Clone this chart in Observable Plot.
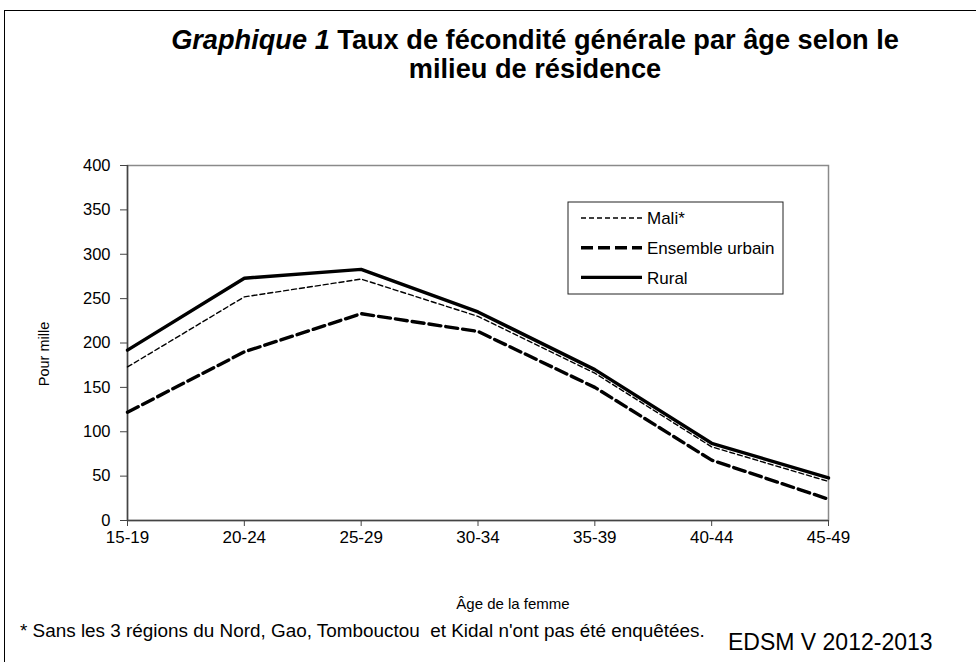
<!DOCTYPE html>
<html>
<head>
<meta charset="utf-8">
<script src="https://cdn.jsdelivr.net/npm/d3@7"></script>
<script src="https://cdn.jsdelivr.net/npm/@observablehq/plot@0.6"></script>
<style>
  html, body { margin: 0; padding: 0; background: #fff; }
  #wrap { position: relative; width: 976px; height: 662px; overflow: hidden; background: #fff; font-family: "Liberation Sans", Arial, sans-serif; }
  #border { position: absolute; left: 4px; top: 10px; width: 1200px; height: 900px; border-top: 1.5px solid #000; border-left: 1.5px solid #000; }
  #wrap svg { position: absolute; left: 0; top: 0; }
</style>
</head>
<body>
<div id="wrap"><div id="border"></div></div>
<script>
const ages = ["15-19", "20-24", "25-29", "30-34", "35-39", "40-44", "45-49"];
const mali = [173, 252, 272, 230, 166, 83, 44];
const urbain = [122, 190, 233, 213, 150, 68, 24];
const rural = [192, 273, 283, 235, 170, 87, 48];
const yTicks = [0, 50, 100, 150, 200, 250, 300, 350, 400];
const seriesNames = ["Mali*", "Ensemble urbain", "Rural"];
const titleItalic = "Graphique 1";
const titleRest = " Taux de fécondité générale par âge selon le";
const titleLine2 = "milieu de résidence";
const yLabel = "Pour mille";
const xLabel = "Âge de la femme";
const footnote = "* Sans les 3 régions du Nord, Gao, Tombouctou  et Kidal n'ont pas été enquêtées.";
const source = "EDSM V 2012-2013";

const styles = [
  {w: 1.4, dash: "5,3"},
  {w: 3.4, dash: "12,5"},
  {w: 3.4, dash: null}
];
const allSeries = [mali, urbain, rural];
const rows = [];
allSeries.forEach((vals, s) => vals.forEach((v, i) => rows.push({age: ages[i], value: v, series: seriesNames[s]})));

const lineMarks = seriesNames.map((name, s) => Plot.line(rows.filter(d => d.series === name), {
  x: "age", y: "value", stroke: "#000", strokeWidth: styles[s].w,
  strokeDasharray: styles[s].dash || undefined, strokeLinejoin: "round"
}));

const chart = Plot.plot({
  width: 976, height: 662,
  marginLeft: 127, marginRight: 148, marginTop: 165, marginBottom: 142,
  style: {fontFamily: "Liberation Sans, Arial, sans-serif", background: "transparent", color: "#000"},
  x: {type: "point", domain: ages, padding: 0, round: false},
  y: {domain: [0, 400]},
  marks: [
    Plot.frame({stroke: "#8a8a8a", strokeWidth: 1.5}),
    Plot.axisY({ticks: yTicks, tickSize: 7, tickPadding: 10, fontSize: 16.5, label: null, stroke: "#444"}),
    Plot.axisX({tickSize: 6, tickPadding: 4, fontSize: 17, label: null, stroke: "#444"}),
    Plot.ruleX([ages[0]], {stroke: "#444", strokeWidth: 1.5}),
    Plot.ruleY([0], {stroke: "#444", strokeWidth: 1.5}),
    ...lineMarks
  ]
});

document.getElementById("wrap").appendChild(chart);
const svg = d3.select(chart);

// Title
const t1 = svg.append("text").attr("x", 535).attr("y", 49).attr("text-anchor", "middle")
  .attr("font-size", 27.2).attr("font-weight", "bold").attr("fill", "#000");
t1.append("tspan").attr("font-style", "italic").text(titleItalic);
t1.append("tspan").text(titleRest);
svg.append("text").attr("x", 535).attr("y", 78).attr("text-anchor", "middle")
  .attr("font-size", 27.2).attr("font-weight", "bold").attr("fill", "#000").text(titleLine2);

// Axis labels
svg.append("text").attr("transform", "translate(49,354) rotate(-90)").attr("text-anchor", "middle")
  .attr("font-size", 14.5).attr("fill", "#000").text(yLabel);
svg.append("text").attr("x", 513).attr("y", 609).attr("text-anchor", "middle")
  .attr("font-size", 15).attr("fill", "#000").text(xLabel);

// Footnotes
svg.append("text").attr("x", 20).attr("y", 637).attr("text-anchor", "start").attr("font-size", 18.9)
  .attr("fill", "#000").style("white-space", "pre").text(footnote);
svg.append("text").attr("x", 728).attr("y", 650).attr("text-anchor", "start").attr("font-size", 23)
  .attr("fill", "#000").text(source);

// Legend
const lg = svg.append("g");
lg.append("rect").attr("x", 568).attr("y", 202).attr("width", 215).attr("height", 92)
  .attr("fill", "#fff").attr("stroke", "#222").attr("stroke-width", 1);
seriesNames.forEach((name, s) => {
  const y = 218 + s * 29.7;
  const ln = lg.append("line").attr("x1", 581).attr("x2", 642).attr("y1", y).attr("y2", y)
    .attr("stroke", "#000").attr("stroke-width", styles[s].w);
  if (styles[s].dash) ln.attr("stroke-dasharray", styles[s].dash);
  lg.append("text").attr("x", 647).attr("y", y + 6.2).attr("text-anchor", "start").attr("font-size", 17)
    .attr("fill", "#000").text(name);
});
</script>
</body>
</html>
